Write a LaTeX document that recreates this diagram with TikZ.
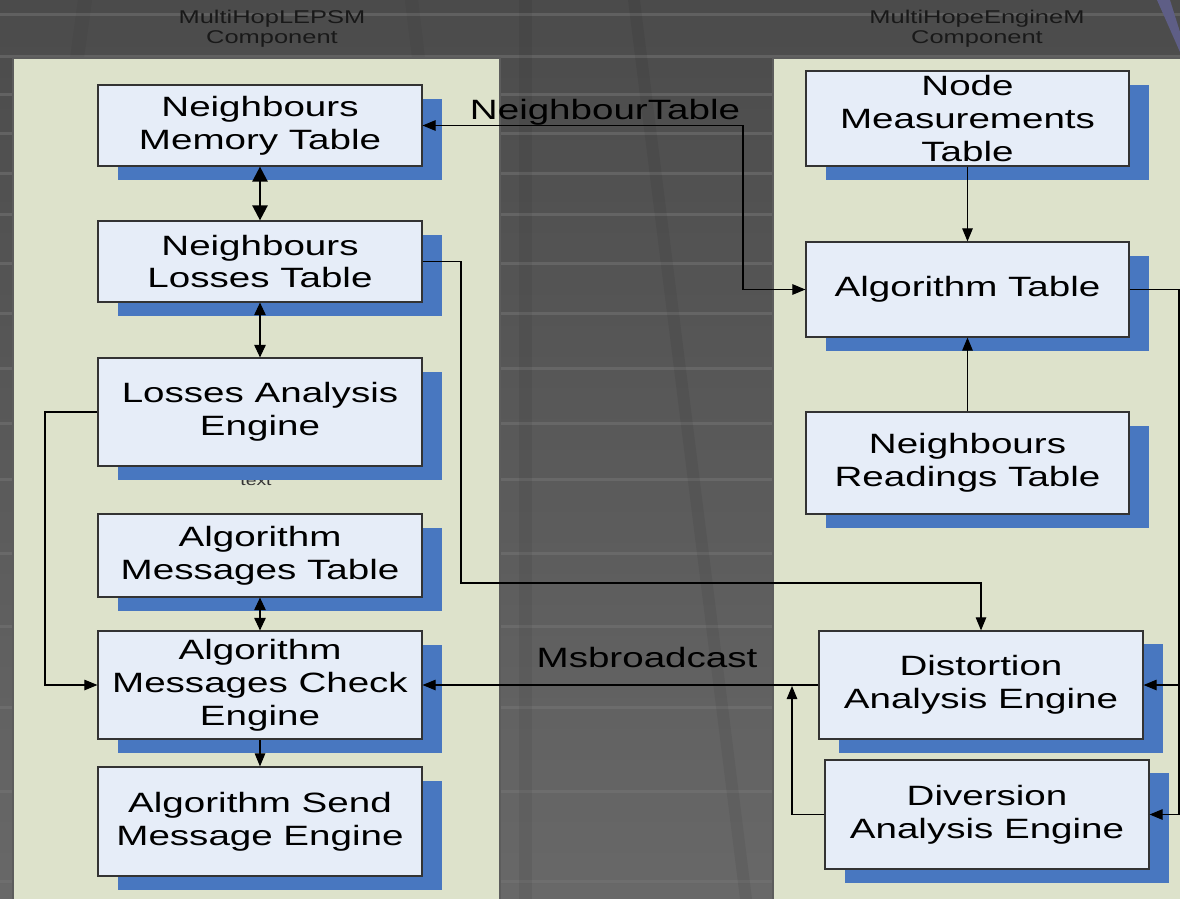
\documentclass[tikz,border=0pt]{standalone}
\usepackage{fontspec}
\usetikzlibrary{arrows.meta,shadows}
\newfontfamily\arialx[FakeStretch=1.38]{Liberation Sans}
\definecolor{panelfill}{HTML}{DDE2CB}
\definecolor{boxfill}{HTML}{E6EDF8}
\definecolor{shadowblue}{HTML}{4877C0}
\definecolor{boxline}{HTML}{333333}
\definecolor{bgtop}{HTML}{4B4B4B}
\definecolor{bgbot}{HTML}{686868}
\definecolor{stripe}{HTML}{767676}
\definecolor{slantblue}{HTML}{5E5E86}
\tikzset{
  box/.style={draw=boxline, fill=boxfill, line width=0.7pt, minimum width=6.48cm,
    align=center, inner sep=0pt, font=\arialx\fontsize{15.9}{18.7}\selectfont,
    drop shadow={shadow xshift=0.4cm, shadow yshift=-0.28cm, fill=shadowblue, opacity=1}},
  panel/.style={draw=boxline!80, fill=panelfill, line width=0.7pt},
  complabel/.style={align=center, inner sep=0pt, text=black!90, font=\arialx\fontsize{10.5}{11.6}\selectfont},
  biglabel/.style={anchor=base, inner sep=0pt, font=\arialx\fontsize{15.9}{18.7}\selectfont},
  conn/.style={draw=black, line width=0.6pt},
  arr/.style={conn, -{Triangle[length=2.6mm,width=2.1mm]}},
  darr/.style={conn, {Triangle[length=2.5mm,width=2.3mm]}-{Triangle[length=2.5mm,width=2.3mm]}},
  tdarr/.style={draw=black, line width=1.4pt, {Triangle[length=3mm,width=3mm]}-{Triangle[length=3mm,width=3mm]}}
}
\begin{document}
\begin{tikzpicture}[x=0.02cm,y=-0.02cm]
\useasboundingbox (0,0) rectangle (1180,899);
% background
\shade[top color=bgtop, bottom color=bgbot] (0,0) rectangle (1180,899);
\foreach \yy in {13,55,93,132,172,213,262,312,367,422,478,552,625,706,790,880}
  \fill[stripe, opacity=0.5] (0,\yy) rectangle (1180,\yy+3);
\fill[black, opacity=0.06] (519,0) rectangle (532,899);
\fill[black, opacity=0.06] (628,0) -- (640,0) -- (752,899) -- (740,899) -- cycle;
\fill[black, opacity=0.04] (78,0) -- (92,0) -- (84,58) -- (70,58) -- cycle;
\fill[black, opacity=0.04] (405,0) -- (418,0) -- (425,58) -- (412,58) -- cycle;
\fill[slantblue] (1157,0) -- (1170,0) -- (1180,32) -- (1180,52) -- cycle;
% panels
\draw[panel] (13,58) rectangle (500,905);
\draw[panel] (773,58) rectangle (1190,905);
% component labels
\node[complabel] (lpl) at (272,29) {MultiHopLEPSM\\Component};
\node[complabel] (rpl) at (977,29) {MultiHopeEngineM\\Component};
% stray small label
\node[anchor=base, inner sep=0pt, font=\arialx\fontsize{8}{9}\selectfont, text=black!80] (txt) at (256,485) {text};
% left boxes
\node[box, minimum height=1.62cm] (nmt) at (260,125.5) {Neighbours\\Memory Table};
\node[box, minimum height=1.62cm] (nlt) at (260,261.5) {Neighbours\\Losses Table};
\node[box, minimum height=2.16cm] (lae) at (260,412) {Losses Analysis\\Engine};
\node[box, minimum height=1.66cm] (amt) at (260,555.5) {Algorithm\\Messages Table};
\node[box, minimum height=2.16cm] (amce) at (260,685) {Algorithm\\Messages Check\\Engine};
\node[box, minimum height=2.18cm] (asme) at (260,821.5) {Algorithm Send\\Message Engine};
% right boxes
\node[box, minimum width=6.46cm, minimum height=1.9cm] (nm) at (967.5,118.5) {Node\\Measurements\\Table};
\node[box, minimum width=6.46cm, minimum height=1.9cm] (at) at (967.5,289.5) {Algorithm Table};
\node[box, minimum width=6.46cm, minimum height=2.04cm] (nrt) at (967.5,463) {Neighbours\\Readings Table};
\node[box, minimum height=2.16cm, drop shadow={shadow xshift=0.4cm, shadow yshift=-0.26cm, fill=shadowblue, opacity=1}] (dae) at (981,685) {Distortion\\Analysis Engine};
\node[box, minimum height=2.18cm, drop shadow={shadow xshift=0.4cm, shadow yshift=-0.26cm, fill=shadowblue, opacity=1}] (div) at (987,814.5) {Diversion\\Analysis Engine};
% helper coordinates
\coordinate (c1) at (461,583);
\coordinate (c2) at (45,550);
\coordinate (c3) at (743,200);
\coordinate (c4) at (792,686);
\coordinate (c5) at (1179,685);
% connectors left
\draw[tdarr] (nmt.south) -- (nlt.north);
\draw[darr] (nlt.south) -- (lae.north);
\draw[darr] (amt.south) -- (amce.north);
\draw[arr] (amce.south) -- (asme.north);
\draw[arr] (lae.west) -| (c2) |- (amce.west);
\draw[arr] (nlt.east) -| (c1) -| (dae.north);
% connectors right
\draw[conn, {Triangle[length=2.6mm,width=2.1mm]}-{Triangle[length=2.6mm,width=2.1mm]}] (nmt.east) -| (c3) |- (at.west);
\draw[arr] (nm.south) -- (at.north);
\draw[arr] (nrt.north) -- (at.south);
\draw[arr] (at.east) -| (c5) |- (dae.east);
\draw[arr] (c5) |- (div.east);
\draw[arr] (dae.west) -- (amce.east);
\draw[arr] (div.west) -| (c4);
% connector labels
\node[biglabel] (lblnt) at (605,119) {NeighbourTable};
\node[biglabel] (lblmb) at (647,667) {Msbroadcast};
\end{tikzpicture}
\end{document}
